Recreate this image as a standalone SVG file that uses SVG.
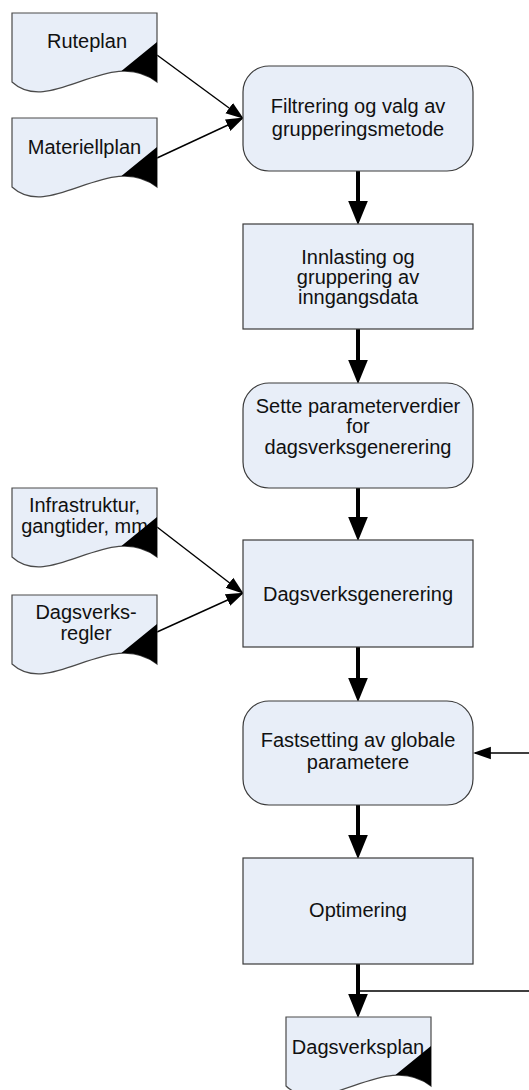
<svg xmlns="http://www.w3.org/2000/svg" xmlns:xlink="http://www.w3.org/1999/xlink" width="529" height="1090" viewBox="0 0 529 1090">
<style>
.box{fill:#e8eef8;stroke:#3a3a3a;stroke-width:1.2}
.doc{fill:#e8eef8;stroke:#4a4a4a;stroke-width:1.2}
.fold{fill:#000}
text{font-family:"Liberation Sans",Arial,sans-serif;font-size:20px;fill:#111;text-anchor:middle}
.thick{stroke:#000;stroke-width:4;fill:none}
.thin{stroke:#000;stroke-width:1.4;fill:none}
</style>
<defs>
<path id="docShape" d="M0,0 H145 V69 C98,32 38,104 0,69 Z"/>
<path id="docFold" d="M145,29 L109.4,58 C121.7,57.7 133.7,60.3 145,69 Z"/>
<marker id="bigHead" markerUnits="userSpaceOnUse" markerWidth="24" markerHeight="20" viewBox="0 0 22 18" refX="10" refY="9" orient="auto">
<path d="M0,0 L22,9 L0,18 Z" fill="#000"/>
</marker>
<marker id="smallHead" markerUnits="userSpaceOnUse" markerWidth="18" markerHeight="14" viewBox="0 0 17 12" refX="15" refY="6" orient="auto">
<path d="M0,0 L17,6 L0,12 Z" fill="#000"/>
</marker>
</defs>

<g id="connectors">
<line class="thick" x1="358" y1="171" x2="358" y2="212" marker-end="url(#bigHead)"/>
<line class="thick" x1="358" y1="329" x2="358" y2="371" marker-end="url(#bigHead)"/>
<line class="thick" x1="358" y1="488" x2="358" y2="528" marker-end="url(#bigHead)"/>
<line class="thick" x1="358" y1="647" x2="358" y2="689" marker-end="url(#bigHead)"/>
<line class="thick" x1="358" y1="805" x2="358" y2="846" marker-end="url(#bigHead)"/>
<line class="thick" x1="358" y1="964" x2="358" y2="1005" marker-end="url(#bigHead)"/>
<line class="thin" x1="157" y1="55" x2="242" y2="117.5" marker-end="url(#smallHead)"/>
<line class="thin" x1="157" y1="158" x2="242" y2="118.5" marker-end="url(#smallHead)"/>
<line class="thin" x1="157" y1="527" x2="242" y2="592.5" marker-end="url(#smallHead)"/>
<line class="thin" x1="157" y1="632" x2="242" y2="593.5" marker-end="url(#smallHead)"/>
<path class="thin" d="M358,991 H545 V753 H475" marker-end="url(#smallHead)"/>
</g>

<g id="doc-ruteplan" transform="translate(12,13)">
<use href="#docShape" class="doc"/>
<text x="75" y="35">Ruteplan</text>
<use href="#docFold" class="fold"/>
</g>

<g id="doc-materiellplan" transform="translate(12,118)">
<use href="#docShape" class="doc"/>
<text x="72.5" y="36">Materiellplan</text>
<use href="#docFold" class="fold"/>
</g>

<g id="doc-infrastruktur" transform="translate(12,488)">
<use href="#docShape" class="doc"/>
<text x="72.5" y="24">Infrastruktur,</text>
<text x="72.5" y="45">gangtider, mm</text>
<use href="#docFold" class="fold"/>
</g>

<g id="doc-dagsverksregler" transform="translate(12,595)">
<use href="#docShape" class="doc"/>
<text x="74" y="24">Dagsverks-</text>
<text x="74" y="45">regler</text>
<use href="#docFold" class="fold"/>
</g>

<g id="doc-dagsverksplan" transform="translate(286,1017)">
<use href="#docShape" class="doc"/>
<text x="72" y="37">Dagsverksplan</text>
<use href="#docFold" class="fold"/>
</g>

<g id="p1-filtrering">
<rect class="box" x="243" y="66" width="230" height="105" rx="26" ry="26"/>
<text x="358" y="113">Filtrering og valg av</text>
<text x="358" y="136">grupperingsmetode</text>
</g>

<g id="p2-innlasting">
<rect class="box" x="243" y="224" width="230" height="105"/>
<text x="358" y="264">Innlasting og</text>
<text x="358" y="284">gruppering av</text>
<text x="358" y="304">inngangsdata</text>
</g>

<g id="p3-parameterverdier">
<rect class="box" x="243" y="383" width="230" height="105" rx="26" ry="26"/>
<text x="358" y="413">Sette parameterverdier</text>
<text x="358" y="433">for</text>
<text x="358" y="454">dagsverksgenerering</text>
</g>

<g id="p4-dagsverksgenerering">
<rect class="box" x="243" y="540" width="230" height="107"/>
<text x="358" y="601">Dagsverksgenerering</text>
</g>

<g id="p5-fastsetting">
<rect class="box" x="243" y="701" width="230" height="104" rx="26" ry="26"/>
<text x="358" y="747">Fastsetting av globale</text>
<text x="358" y="769">parametere</text>
</g>

<g id="p6-optimering">
<rect class="box" x="243" y="858" width="230" height="106"/>
<text x="358" y="917">Optimering</text>
</g>
</svg>
